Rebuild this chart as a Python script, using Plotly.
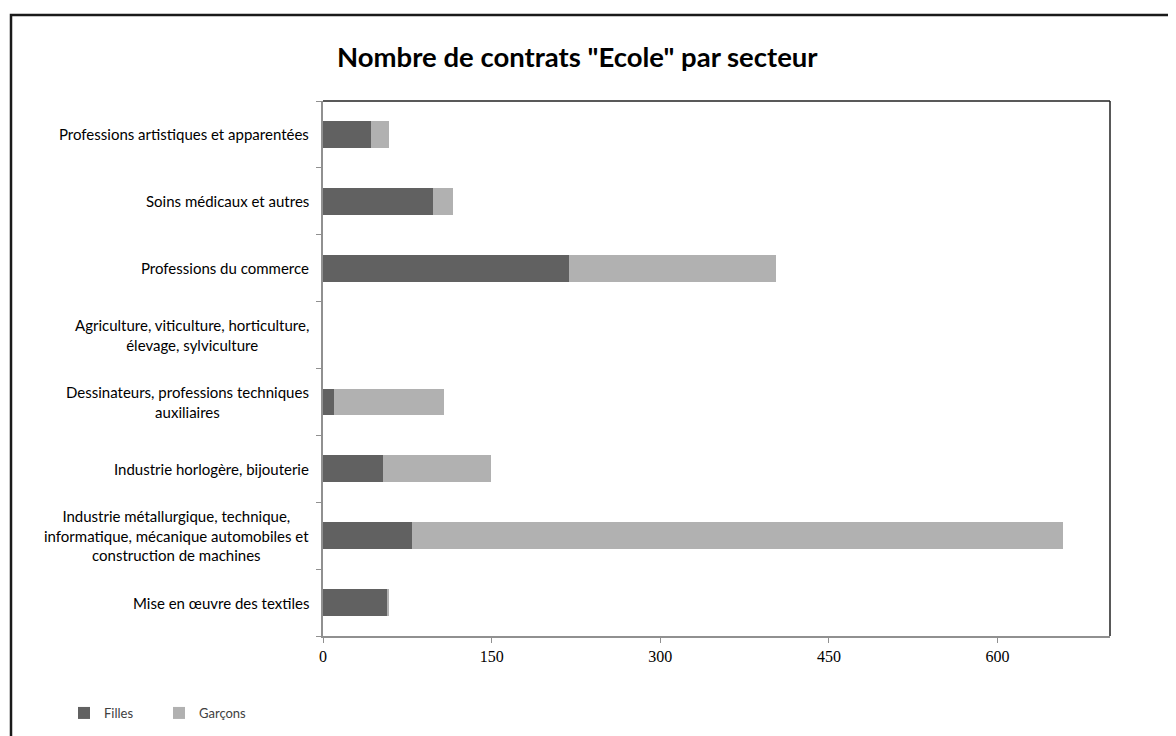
import plotly.graph_objects as go

categories = [
    "Mise en œuvre des textiles",
    "Industrie métallurgique, technique,<br>informatique, mécanique automobiles et<br>construction de machines",
    "Industrie horlogère, bijouterie",
    "Dessinateurs, professions techniques<br>auxiliaires",
    "Agriculture, viticulture, horticulture,<br>élevage, sylviculture",
    "Professions du commerce",
    "Soins médicaux et autres",
    "Professions artistiques et apparentées",
]
filles = [57, 79, 53, 10, 0, 219, 98, 43]
garcons = [1, 579, 96, 98, 0, 184, 18, 16]
x_ticks = [0, 150, 300, 450, 600]
title_text = 'Nombre de contrats "Ecole" par secteur'

W, H = 1176, 736
OFF = 8  # page body margin
L, R, T, B = 323 - OFF, 1110 - OFF, 101 - OFF, 636 - OFF


def px2x(p):
    return (p - OFF - L) / (R - L)


def py2y(p):
    return (B - (p - OFF)) / (B - T)


fig = go.Figure()
fig.add_trace(go.Bar(y=categories, x=filles, orientation="h", name="Filles",
                     marker=dict(color="#616161", line=dict(width=0))))
fig.add_trace(go.Bar(y=categories, x=garcons, orientation="h", name="Garçons",
                     marker=dict(color="#b1b1b1", line=dict(width=0))))

annotations = []
for c in categories:
    annotations.append(dict(x=0, xref="paper", y=c, yref="y", text=c, showarrow=False,
                            xanchor="right", yanchor="middle", align="center", xshift=-12,
                            font=dict(family="Lato, Open Sans, sans-serif", size=15, color="#000")))
annotations.append(dict(x=px2x(577), xref="paper", y=py2y(56), yref="paper", text="<b>" + title_text + "</b>",
                        showarrow=False, xanchor="center", yanchor="middle",
                        font=dict(family="Lato, Open Sans, sans-serif", size=27.5, color="#000")))

shapes = [
    dict(type="rect", xref="paper", yref="paper", x0=px2x(11), x1=px2x(1200), y0=py2y(780), y1=py2y(15),
         line=dict(color="#1a1a1a", width=2.5), fillcolor="rgba(0,0,0,0)", layer="below"),
    dict(type="line", xref="paper", yref="paper", x0=0, x1=1, y0=1, y1=1, line=dict(color="#222", width=1.5)),
    dict(type="line", xref="paper", yref="paper", x0=1, x1=1, y0=0, y1=1, line=dict(color="#222", width=1.5)),
]

fig.update_layout(
    width=W, height=H,
    margin=dict(l=L, r=W - R, t=T, b=H - B, autoexpand=False),
    barmode="stack", bargap=0.6,
    plot_bgcolor="white", paper_bgcolor="white",
    showlegend=True,
    legend=dict(orientation="h", x=px2x(64), y=py2y(713), xref="paper", yref="paper",
                xanchor="left", yanchor="middle", traceorder="normal",
                font=dict(family="Lato, Open Sans, sans-serif", size=13, color="#404040"),
                itemwidth=30, entrywidth=50),
    annotations=annotations,
    shapes=shapes,
    xaxis=dict(range=[0, 700], tickvals=x_ticks, ticktext=[str(v) for v in x_ticks],
               showgrid=False, zeroline=False, showline=True, linecolor="#909090", linewidth=1.5,
               ticks="outside", ticklen=5, tickcolor="#909090",
               tickfont=dict(family="Liberation Serif, serif", size=16, color="#000")),
    yaxis=dict(categoryorder="array", categoryarray=categories, showticklabels=False,
               showgrid=False, zeroline=False, showline=True, linecolor="#909090", linewidth=1.5,
               ticks="outside", ticklen=5, tickcolor="#909090", tickson="boundaries"),
)

fig.write_html("out.html")
